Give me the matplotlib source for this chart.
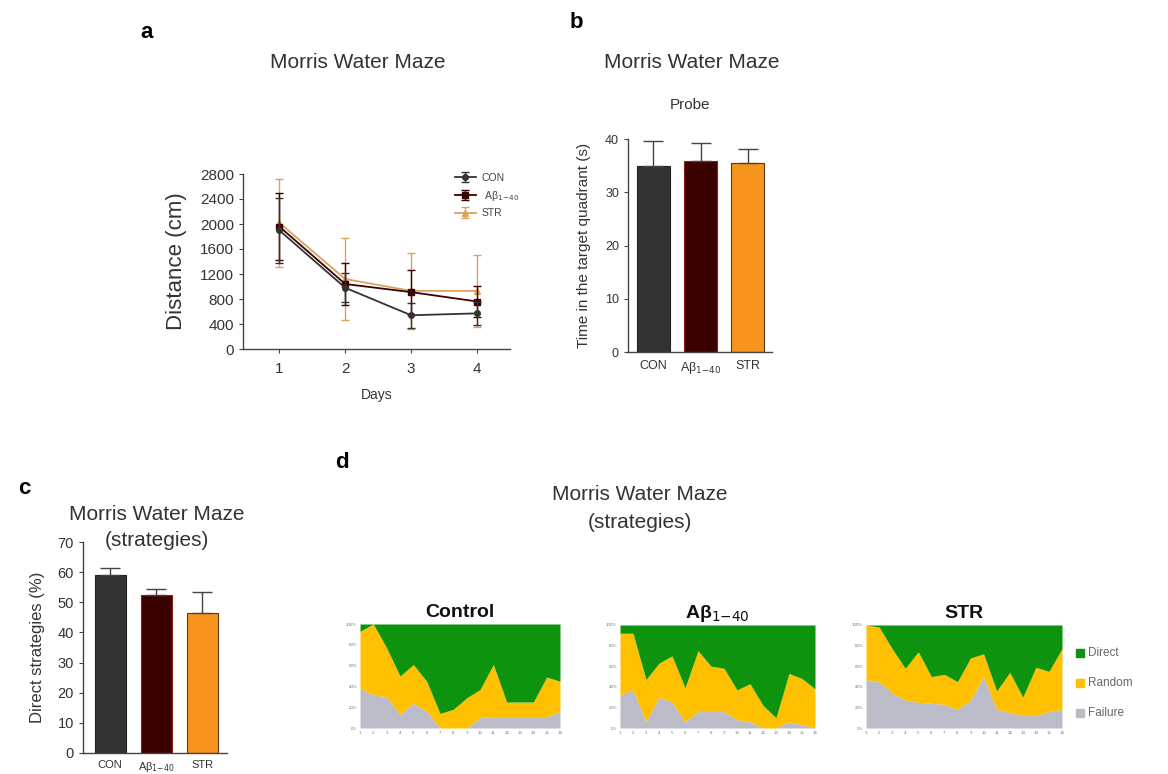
import numpy as np
import matplotlib
matplotlib.use("Agg")
import matplotlib.pyplot as plt

plt.rcParams['font.family'] = ['Liberation Sans', 'DejaVu Sans']

# panel a: distance by day
days = [1, 2, 3, 4]
con_dist = [1900, 980, 540, 570]
con_err = [520, 230, 200, 180]
abeta_dist = [1960, 1040, 910, 760]
abeta_err = [530, 330, 360, 250]
str_dist = [2020, 1120, 930, 930]
str_err = [700, 660, 610, 580]

# panel b: probe
groups = ['CON', 'Aβ$_{1\\mathrm{-}40}$', 'STR']
probe_mean = [35.0, 35.8, 35.4]
probe_err = [4.7, 3.5, 2.8]

# panel c: direct strategies
direct_mean = [59.0, 52.5, 46.5]
direct_err = [2.3, 1.8, 7.0]

# panel d: strategy proportions per trial (%)
trials = list(range(1, 17))
ctrl_failure = [38, 32, 30, 13, 24, 16, 0, 0, 0, 10, 11, 11, 11, 11, 11, 16]
ctrl_fail_rand = [93, 100, 77, 50, 61, 45, 14, 18, 29, 37, 61, 25, 25, 25, 49, 45]
ab_failure = [32, 37, 6, 30, 25, 6, 16, 16, 16, 8, 6, 0, 0, 6, 3, 0]
ab_fail_rand = [92, 92, 47, 63, 70, 39, 75, 60, 58, 37, 43, 22, 10, 53, 48, 38]
str_failure = [47, 45, 34, 27, 25, 24, 23, 18, 27, 50, 18, 15, 12, 12, 16, 18]
str_fail_rand = [100, 98, 77, 58, 74, 50, 52, 45, 68, 72, 36, 54, 30, 59, 55, 77]

c_con = '#333333'
c_ab = '#3b0000'
c_str = '#f7941d'
c_str_line = '#d9a35c'
c_direct = '#0e930e'
c_random = '#ffc000'
c_fail = '#bcbcc8'

W, H = 1168, 774
fig = plt.figure(figsize=(W / 100, H / 100), dpi=100)


def box(l, t, r, b):
    return [l / W, 1 - b / H, (r - l) / W, (b - t) / H]


def prism(ax):
    ax.spines['top'].set_visible(False)
    ax.spines['right'].set_visible(False)
    for s in ('left', 'bottom'):
        ax.spines[s].set_color('#444444')
        ax.spines[s].set_linewidth(1.0)
    ax.tick_params(colors='#444444', labelcolor='#333333', width=0.8, length=3)


def label(xp, yp, s, **kw):
    fig.text(xp / W, 1 - yp / H, s, va='center', **kw)


# ---- a ----
ax = fig.add_axes(box(243, 174, 510, 349))
prism(ax)
ax.errorbar(days, con_dist, yerr=con_err, color=c_con, marker='o', ms=4,
            lw=1.3, capsize=3, elinewidth=1, label='CON', zorder=4)
ax.errorbar(days, abeta_dist, yerr=abeta_err, color=c_ab, marker='s', ms=4,
            lw=1.3, capsize=3, elinewidth=1, label=' Aβ$_{1\\mathrm{-}40}$', zorder=3)
ax.errorbar(days, str_dist, yerr=str_err, color=c_str_line, marker='^', ms=4,
            lw=1.3, capsize=3, elinewidth=1, label='STR', zorder=2)
ax.set_xlim(0.45, 4.5)
ax.set_ylim(0, 2800)
ax.set_yticks(range(0, 2801, 400))
ax.set_xticks(days)
ax.tick_params(labelsize=11)
ax.tick_params(axis='x', pad=6)
ax.set_ylabel('Distance (cm)', fontsize=16, color='#333333', labelpad=9)
ax.set_xlabel('Days', fontsize=10, color='#333333', labelpad=9)
leg = ax.legend(loc='upper right', bbox_to_anchor=(1.07, 1.06), frameon=False,
                fontsize=7.5, handlelength=2.0, labelspacing=0.55, handletextpad=0.6)
for t in leg.get_texts():
    t.set_color('#444444')
label(140, 32, 'a', fontsize=16, fontweight='bold')
label(358, 62, 'Morris Water Maze', fontsize=15, ha='center', color='#333333')

# ---- b ----
ax = fig.add_axes(box(628, 139, 772, 352))
prism(ax)
x = np.arange(3)
ax.bar(x, probe_mean, width=0.7, color=[c_con, c_ab, c_str],
       edgecolor=['#222222', '#8a2020', '#5a3a10'], linewidth=0.8)
ax.errorbar(x, probe_mean, yerr=[[0, 0, 0], probe_err], fmt='none',
            ecolor='#444444', capsize=7, elinewidth=1.0, capthick=1.0)
ax.set_xlim(-0.54, 2.51)
ax.set_ylim(0, 40)
ax.set_yticks(range(0, 41, 10))
ax.set_xticks(x)
ax.set_xticklabels(groups)
ax.tick_params(labelsize=9)
ax.tick_params(axis='x', length=0, pad=6)
ax.set_ylabel('Time in the target quadrant (s)', fontsize=11, color='#333333',
              labelpad=10)
label(570, 22, 'b', fontsize=16, fontweight='bold')
label(692, 62, 'Morris Water Maze', fontsize=15, ha='center', color='#333333')
label(690, 105, 'Probe', fontsize=11, ha='center', color='#333333')

# ---- c ----
ax = fig.add_axes(box(83, 542, 227, 753))
prism(ax)
ax.bar(x, direct_mean, width=0.68, color=[c_con, c_ab, c_str],
       edgecolor=['#222222', '#8a2020', '#5a3a10'], linewidth=0.8)
ax.errorbar(x, direct_mean, yerr=[[0, 0, 0], direct_err], fmt='none',
            ecolor='#444444', capsize=7, elinewidth=1.0, capthick=1.0)
ax.set_xlim(-0.59, 2.54)
ax.set_ylim(0, 70)
ax.set_yticks(range(0, 71, 10))
ax.set_xticks(x)
ax.set_xticklabels(groups)
ax.tick_params(labelsize=10.5)
ax.tick_params(axis='x', length=0, pad=5, labelsize=8)
ax.set_ylabel('Direct strategies (%)', fontsize=12, color='#333333', labelpad=9)
label(18, 488, 'c', fontsize=16, fontweight='bold')
label(157, 514, 'Morris Water Maze', fontsize=15, ha='center', color='#333333')
label(157, 540, '(strategies)', fontsize=15, ha='center', color='#333333')

# ---- d ----
label(335, 463, 'd', fontsize=16, fontweight='bold')
label(640, 494, 'Morris Water Maze', fontsize=15, ha='center', color='#333333')
label(640, 522, '(strategies)', fontsize=15, ha='center', color='#333333')

stacks = [
    ('Control', ctrl_failure, ctrl_fail_rand, (360, 624, 560, 728)),
    ('Aβ$_{1\\mathrm{-}40}$', ab_failure, ab_fail_rand, (620, 625, 815, 728)),
    ('STR', str_failure, str_fail_rand, (866, 625, 1062, 728)),
]
for name, fail, fail_rand, (l, t, r, b) in stacks:
    ax = fig.add_axes(box(l, t, r, b))
    fail = np.array(fail)
    fail_rand = np.array(fail_rand)
    ax.fill_between(trials, 0, fail, color=c_fail, lw=0)
    ax.fill_between(trials, fail, fail_rand, color=c_random, lw=0)
    ax.fill_between(trials, fail_rand, 100, color=c_direct, lw=0)
    ax.set_xlim(1, 16)
    ax.set_ylim(0, 100)
    ax.set_xticks(trials)
    ax.set_yticks(range(0, 101, 20))
    ax.set_yticklabels(['%d%%' % v for v in range(0, 101, 20)])
    ax.tick_params(labelsize=3.2, length=0, pad=2, labelcolor='#777777')
    for s in ax.spines.values():
        s.set_visible(False)
    ax.set_title(name, fontsize=14, fontweight='bold', pad=5, color='#111111')

# legend for d
lx = 1080
for i, (lab, col) in enumerate([('Direct', c_direct), ('Random', c_random),
                                ('Failure', c_fail)]):
    y = 653 + i * 30
    fig.patches.append(plt.Rectangle(((lx - 4) / W, 1 - (y + 4) / H), 8 / W, 8 / H,
                                     transform=fig.transFigure, color=col))
    label(lx + 8, y, lab, fontsize=8.5, color='#666666')

fig.savefig('out.png', dpi=100)
